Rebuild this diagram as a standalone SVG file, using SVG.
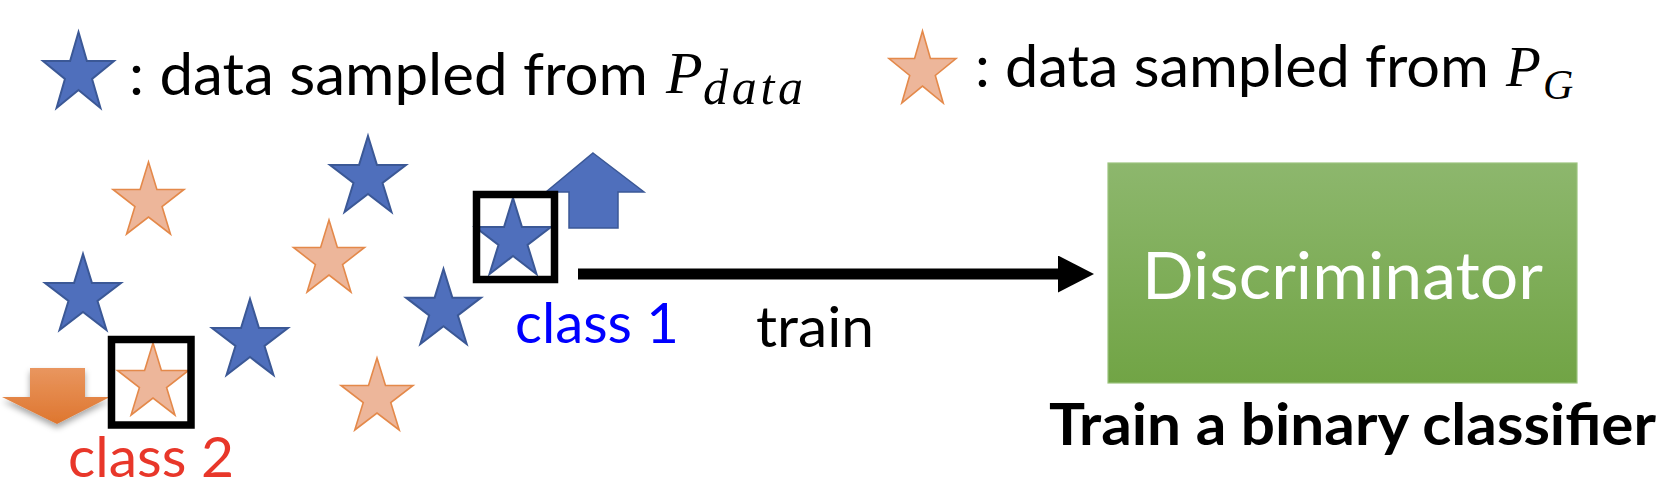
<svg xmlns="http://www.w3.org/2000/svg" xmlns:xlink="http://www.w3.org/1999/xlink" width="1670" height="494" viewBox="0 0 1670 494">
<style>
.txt{font-family:Lato,"Open Sans","Liberation Sans",sans-serif;}
.math{font-family:"Liberation Serif","DejaVu Serif",serif;font-style:italic;fill:#000;}
.bs{fill:#4F6FBC;stroke:#3B5896;stroke-width:2;}
.os{fill:#EDB69A;stroke:#E4894A;stroke-width:1.6;}
.frame{fill:none;stroke:#000;stroke-width:7.5;}
</style>
<defs>
<path id="star" d="M50,0 L61.8,38.2 L100,38.2 L69.1,61.8 L80.9,100 L50,76.4 L19.1,100 L30.9,61.8 L0,38.2 L38.2,38.2 Z" vector-effect="non-scaling-stroke"/>
<linearGradient id="green" x1="0" y1="0" x2="0" y2="1">
<stop offset="0" stop-color="#8DB76D"/>
<stop offset="1" stop-color="#71A445"/>
</linearGradient>
<linearGradient id="orangeArrow" x1="0" y1="0" x2="0" y2="1">
<stop offset="0" stop-color="#E9965F"/>
<stop offset="1" stop-color="#DE762F"/>
</linearGradient>
<filter id="shadow" x="-20%" y="-20%" width="140%" height="160%">
<feDropShadow dx="0" dy="4" stdDeviation="3" flood-color="#000" flood-opacity="0.35"/>
</filter>
<marker id="head" viewBox="0 0 36 37" markerWidth="36" markerHeight="37" refX="1" refY="18.5" markerUnits="userSpaceOnUse" orient="auto">
<path d="M0,0 L36,18.5 L0,37 Z" fill="#000"/>
</marker>
</defs>

<g id="legend-real">
<use xlink:href="#star" class="bs" transform="translate(43,32) scale(0.71,0.76)"/>
<text class="txt" x="129" y="95" font-size="58" textLength="519" lengthAdjust="spacingAndGlyphs">: data sampled from</text>
<text class="math" x="666" y="93" font-size="60">P</text>
<text class="math" x="703" y="104" font-size="50" textLength="100" lengthAdjust="spacing">data</text>
</g>

<g id="legend-generated">
<use xlink:href="#star" class="os" transform="translate(889,31) scale(0.67,0.72)"/>
<text class="txt" x="975" y="87" font-size="58" textLength="514" lengthAdjust="spacingAndGlyphs">: data sampled from</text>
<text class="math" x="1506" y="86" font-size="57">P</text>
<text class="math" x="1543" y="99" font-size="42">G</text>
</g>

<g id="class1-arrow">
<polygon points="593,153 644,192 618,192 618,228 569,228 569,192 546,192" fill="#4F6FBC" stroke="#3B5896" stroke-width="1.5"/>
</g>

<g id="class2-arrow">
<polygon points="30,368 85,368 85,397 110,397 57,424 2,397 30,397" fill="url(#orangeArrow)" filter="url(#shadow)"/>
</g>

<g id="samples">
<use xlink:href="#star" class="os" transform="translate(113,162) scale(0.71,0.72)"/>
<use xlink:href="#star" class="bs" transform="translate(330,136) scale(0.76,0.76)"/>
<use xlink:href="#star" class="os" transform="translate(293.5,220) scale(0.71,0.72)"/>
<use xlink:href="#star" class="bs" transform="translate(45,254) scale(0.76,0.76)"/>
<use xlink:href="#star" class="bs" transform="translate(212,299) scale(0.76,0.76)"/>
<use xlink:href="#star" class="bs" transform="translate(406,269) scale(0.75,0.75)"/>
<use xlink:href="#star" class="os" transform="translate(341,358) scale(0.72,0.72)"/>
</g>

<g id="class2-sample">
<use xlink:href="#star" class="os" transform="translate(117.5,343) scale(0.71,0.72)"/>
<rect class="frame" x="111.5" y="339.5" width="79.5" height="85.5"/>
<text class="txt" x="68" y="477" font-size="56" fill="#E8372A" textLength="166" lengthAdjust="spacingAndGlyphs">class 2</text>
</g>

<g id="class1-sample">
<use xlink:href="#star" class="bs" transform="translate(475,198) scale(0.76,0.76)"/>
<rect class="frame" x="476.5" y="194.5" width="78" height="85"/>
<text class="txt" x="515" y="343" font-size="56" fill="#0000FF" textLength="164" lengthAdjust="spacingAndGlyphs">class 1</text>
</g>

<g id="connectors">
<line x1="578" y1="274" x2="1059" y2="274" stroke="#000" stroke-width="11" marker-end="url(#head)"/>
<text class="txt" x="756" y="347" font-size="56" fill="#000" textLength="118" lengthAdjust="spacingAndGlyphs">train</text>
</g>

<g id="discriminator">
<rect x="1108" y="163" width="469" height="220" fill="url(#green)" stroke="#9CC47E" stroke-width="1.2"/>
<text class="txt" x="1342.5" y="299" font-size="66" fill="#FFFFFF" text-anchor="middle" textLength="401" lengthAdjust="spacingAndGlyphs">Discriminator</text>
</g>

<g id="caption">
<text class="txt" x="1049" y="445" font-size="58" font-weight="bold" fill="#000" textLength="607" lengthAdjust="spacingAndGlyphs">Train a binary classifier</text>
</g>
</svg>
